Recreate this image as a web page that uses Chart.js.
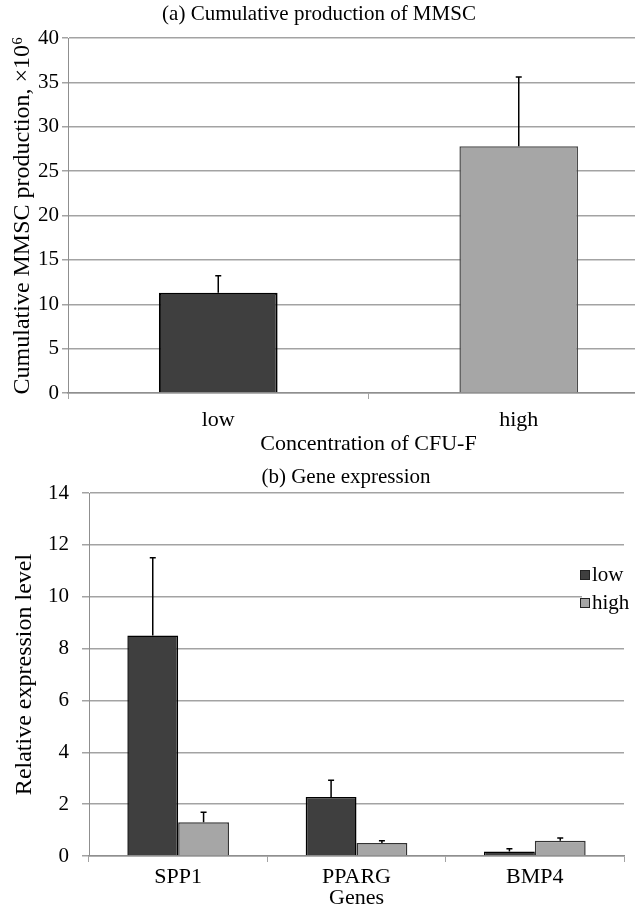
<!DOCTYPE html>
<html lang="en">
<head>
    <meta charset="UTF-8">
    <title>MMSC production and gene expression</title>
    <script src="https://cdn.jsdelivr.net/npm/chart.js"></script>
    <style>
        html, body { margin: 0; padding: 0; background: #fff; overflow: hidden; width: 635px; height: 908px; }
        #wrapA { position: absolute; left: 0; top: 0; }
        #wrapB { position: absolute; left: 0; top: 450px; }
    </style>
</head>
<body>
    <div id="wrapA"><canvas id="chartA" width="680" height="460"></canvas></div>
    <div id="wrapB"><canvas id="chartB" width="635" height="470"></canvas></div>
    <script>
        // data (a)
        const prodCategories = ['low', 'high'];
        const prodValues = [11.3, 27.8];
        const prodErrors = [1.9, 7.8];
        const prodTicks = [0, 5, 10, 15, 20, 25, 30, 35, 40];

        // data (b)
        const geneCategories = ['SPP1', 'PPARG', 'BMP4'];
        const lowValues = [8.5, 2.28, 0.17];
        const lowErrors = [3.0, 0.64, 0.11];
        const highValues = [1.3, 0.5, 0.59];
        const highErrors = [0.39, 0.09, 0.1];
        const geneTicks = [0, 2, 4, 6, 8, 10, 12, 14];

        const SERIF = "'Liberation Serif', 'Times New Roman', serif";
        Chart.defaults.font.family = SERIF;
        Chart.defaults.color = '#000';
        Chart.defaults.animation = false;

        const DARK = '#3f3f3f';
        const LIGHT = '#a6a6a6';
        const GRID = '#a3a3a3';

        // error bars (upper only) drawn from dataset.errors
        const errorBars = {
            id: 'errorBars',
            afterDatasetsDraw(chart) {
                const ctx = chart.ctx;
                const y = chart.scales.y;
                ctx.save();
                ctx.strokeStyle = '#000';
                ctx.lineWidth = 1.5;
                chart.data.datasets.forEach((ds, i) => {
                    if (!ds.errors) return;
                    chart.getDatasetMeta(i).data.forEach((bar, j) => {
                        const top = y.getPixelForValue(ds.data[j] + ds.errors[j]);
                        const base = y.getPixelForValue(ds.data[j]);
                        ctx.beginPath();
                        ctx.moveTo(bar.x, base);
                        ctx.lineTo(bar.x, top);
                        ctx.moveTo(bar.x - 3, top);
                        ctx.lineTo(bar.x + 3, top);
                        ctx.stroke();
                    });
                });
                ctx.restore();
            }
        };

        // plain text title at a fixed spot
        function titlePlugin(text, x, y) {
            return {
                id: 'freeTitle',
                afterDraw(chart) {
                    const ctx = chart.ctx;
                    ctx.save();
                    ctx.font = '21px ' + SERIF;
                    ctx.fillStyle = '#000';
                    ctx.textAlign = 'center';
                    ctx.textBaseline = 'middle';
                    ctx.fillText(text, x, y);
                    ctx.restore();
                }
            };
        }

        // legend with a white box over the grid
        const boxLegend = {
            id: 'boxLegend',
            afterDraw(chart) {
                const ctx = chart.ctx;
                ctx.save();
                ctx.fillStyle = '#fff';
                ctx.fillRect(582, 110, 60, 57);
                ctx.font = '21px ' + SERIF;
                ctx.textBaseline = 'middle';
                chart.data.datasets.forEach((ds, i) => {
                    const cy = 125 + i * 28;
                    ctx.fillStyle = ds.backgroundColor;
                    ctx.fillRect(580, cy - 5, 10, 10);
                    ctx.strokeStyle = '#222';
                    ctx.lineWidth = 1;
                    ctx.strokeRect(580.5, cy - 4.5, 9, 9);
                    ctx.fillStyle = '#000';
                    ctx.fillText(ds.label, 592, cy);
                });
                ctx.restore();
            }
        };

        function yScale(ticks, width, tickLen, pad, title, titlePad) {
            return {
                min: ticks[0],
                max: ticks[ticks.length - 1],
                afterBuildTicks: s => { s.ticks = ticks.map(v => ({ value: v })); },
                afterFit: s => { s.width = width; },
                grid: { color: GRID, lineWidth: 1.5, tickLength: tickLen, tickColor: GRID },
                border: { color: '#8f8f8f', width: 1 },
                ticks: { padding: pad, font: { size: 21 } },
                title: { display: true, text: title, font: { size: 24 }, padding: { top: titlePad, bottom: 0 } }
            };
        }

        function xScale(height, pad, title) {
            return {
                afterFit: s => { s.height = height; },
                grid: { drawOnChartArea: false, tickLength: 6, color: GRID, offset: true },
                border: { color: '#8f8f8f', width: 1.5 },
                ticks: { padding: pad, font: { size: 22 } },
                title: { display: true, text: title, font: { size: 22 }, padding: { top: 0, bottom: 0 } }
            };
        }

        // (a) Cumulative production
        new Chart(document.getElementById('chartA'), {
            type: 'bar',
            data: {
                labels: prodCategories,
                datasets: [{
                    data: prodValues,
                    errors: prodErrors,
                    backgroundColor: [DARK, LIGHT],
                    borderColor: ['#000', '#4a4a4a'],
                    borderWidth: [2, 1.5],
                    barPercentage: 1,
                    categoryPercentage: 0.395
                }]
            },
            options: {
                responsive: false,
                layout: { padding: { left: 0, right: 11, top: 38, bottom: 3 } },
                plugins: { legend: { display: false }, tooltip: { enabled: false } },
                scales: {
                    x: xScale(64, 8, 'Concentration of CFU-F'),
                    y: yScale(prodTicks, 68, 6, 3, 'Cumulative MMSC production, ×10⁶', 8)
                }
            },
            plugins: [errorBars, titlePlugin('(a) Cumulative production of MMSC', 319, 14)]
        });

        // (b) Gene expression
        new Chart(document.getElementById('chartB'), {
            type: 'bar',
            data: {
                labels: geneCategories,
                datasets: [{
                    label: 'low',
                    data: lowValues,
                    errors: lowErrors,
                    backgroundColor: DARK,
                    borderColor: '#000',
                    borderWidth: 1.5,
                    barPercentage: 1,
                    categoryPercentage: 0.57
                }, {
                    label: 'high',
                    data: highValues,
                    errors: highErrors,
                    backgroundColor: LIGHT,
                    borderColor: '#333',
                    borderWidth: 1.5,
                    barPercentage: 1,
                    categoryPercentage: 0.57
                }]
            },
            options: {
                responsive: false,
                layout: { padding: { left: 0, right: 11, top: 43, bottom: 9 } },
                plugins: { legend: { display: false }, tooltip: { enabled: false } },
                scales: {
                    x: xScale(55, 2, 'Genes'),
                    y: yScale(geneTicks, 89, 7, 13, 'Relative expression level', 10)
                }
            },
            plugins: [errorBars, boxLegend, titlePlugin('(b) Gene expression', 346, 27)]
        });
    </script>
</body>
</html>
